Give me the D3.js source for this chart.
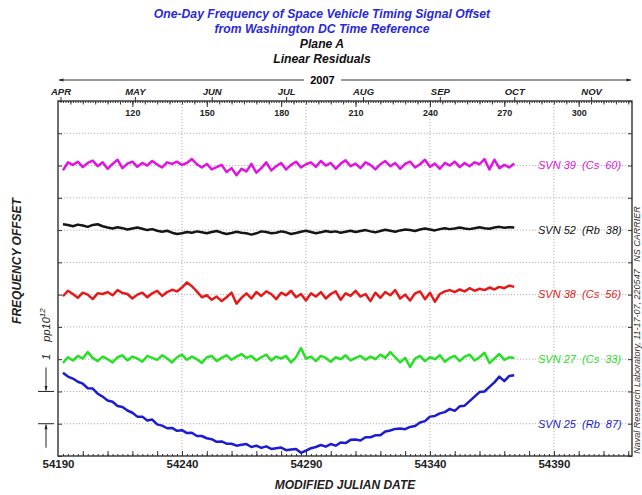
<!DOCTYPE html>
<html>
<head>
<script src="https://cdn.jsdelivr.net/npm/d3@7"></script>
<style>
  body { margin: 0; background: #fff; }
  text { font-family: "Liberation Sans", Arial, sans-serif; }
  .grid line { stroke: #b0b0b0; stroke-dasharray: 1.2,1.8; }
  .domain { display: none; }
</style>
</head>
<body>
<div id="chart"></div>
<script>
(function (d3) {
  'use strict';

  // ---- data ----
  var titleLines = ['One-Day Frequency of Space Vehicle Timing Signal Offset',
                    'from Washington DC Time Reference', 'Plane A', 'Linear Residuals'];
  var seriesNames = ['SVN 39  (Cs  60)', 'SVN 52  (Rb  38)', 'SVN 38  (Cs  56)',
                     'SVN 27  (Cs  33)', 'SVN 25  (Rb  87)'];
  var monthNames = ['APR', 'MAY', 'JUN', 'JUL', 'AUG', 'SEP', 'OCT', 'NOV'];
  var monthStartDoy = [91, 121, 152, 182, 213, 244, 274, 305];
  var doyTicks = [120, 150, 180, 210, 240, 270, 300];
  var mjdTicks = [54190, 54240, 54290, 54340, 54390];

  // one point every 2 days, MJD 54192 .. 54374
  var svn39 = [
    -0.15, 0.10, 0.02, 0.12, -0.05, 0.08, 0.15, -0.02, 0.10, -0.10,
    0.05, 0.18, -0.08, 0.06, 0.12, -0.04, 0.08, 0.00, 0.14, 0.03,
    -0.06, 0.10, 0.05, 0.12, 0.02, 0.08, 0.20, 0.04, -0.06, 0.05,
    -0.12, -0.05, 0.02, -0.20, -0.08, -0.30, -0.10, -0.18, 0.05, -0.22,
    -0.08, 0.10, -0.15, -0.02, 0.08, -0.12, 0.02, 0.12, -0.06, 0.04,
    0.10, -0.04, 0.14, 0.00, 0.08, -0.10, 0.06, 0.16, -0.02, 0.06,
    -0.08, 0.10, 0.02, -0.12, 0.04, 0.14, -0.02, 0.08, -0.10, 0.05,
    0.12, -0.06, 0.04, 0.18, -0.04, 0.06, -0.10, 0.08, 0.00, 0.12,
    -0.05, 0.08, -0.02, 0.10, 0.04, 0.20, -0.12, 0.18, -0.08, 0.02,
    -0.06, 0.06];
  var svn52 = [
    0.18, 0.16, 0.12, 0.17, 0.14, 0.10, 0.16, 0.18, 0.12, 0.08,
    0.05, 0.09, 0.06, 0.02, 0.05, 0.08, 0.04, 0.00, 0.03, -0.02,
    -0.05, -0.02, -0.08, -0.12, -0.10, -0.06, -0.08, -0.04, -0.07, -0.10,
    -0.06, -0.03, -0.08, -0.12, -0.09, -0.05, -0.08, -0.10, -0.14, -0.10,
    -0.04, -0.06, -0.10, -0.08, -0.04, -0.07, -0.12, -0.09, -0.05, -0.02,
    -0.06, -0.10, -0.07, -0.03, -0.06, -0.04, -0.08, -0.05, -0.02, -0.06,
    -0.03, 0.00, -0.04, -0.07, -0.03, 0.01, -0.02, -0.05, -0.01, 0.02,
    0.00, -0.03, 0.02, 0.05, 0.02, -0.01, 0.03, 0.06, 0.03, 0.05,
    0.08, 0.05, 0.03, 0.06, 0.09, 0.06, 0.04, 0.08, 0.10, 0.07,
    0.09, 0.08];
  var svn38 = [
    -0.05, 0.12, 0.02, -0.10, 0.06, 0.00, -0.14, 0.04, 0.02, 0.08,
    -0.02, 0.14, 0.05, 0.02, -0.12, 0.00, 0.06, -0.08, 0.04, 0.12,
    -0.04, 0.08, 0.15, 0.10, 0.22, 0.38, 0.26, 0.10, -0.08, -0.02,
    -0.16, -0.06, -0.20, -0.08, 0.06, -0.28, -0.10, 0.04, -0.12, 0.08,
    -0.04, 0.10, 0.02, -0.14, 0.06, -0.02, 0.12, -0.08, 0.02, -0.18,
    0.04, -0.06, 0.08, -0.12, 0.02, 0.10, -0.16, 0.04, -0.04, 0.12,
    -0.06, 0.02, -0.20, 0.06, -0.10, 0.08, -0.02, 0.14, -0.12, 0.00,
    -0.18, 0.04, 0.10, -0.14, 0.06, -0.22, 0.02, 0.10, 0.14, 0.08,
    0.16, 0.10, 0.20, 0.12, 0.18, 0.14, 0.22, 0.16, 0.24, 0.20,
    0.28, 0.24];
  var svn27 = [
    -0.12, 0.06, -0.04, 0.10, 0.02, 0.22, 0.04, -0.06, 0.08, 0.00,
    -0.10, 0.06, 0.12, -0.04, 0.08, 0.02, -0.08, 0.10, 0.04, -0.02,
    0.12, 0.02, -0.10, 0.06, 0.14, -0.02, 0.08, 0.00, -0.12, 0.06,
    0.10, -0.06, 0.04, 0.12, -0.02, 0.08, 0.16, 0.04, 0.10, -0.04,
    0.06, 0.14, -0.04, 0.08, 0.02, 0.10, -0.10, 0.06, 0.34, 0.02,
    0.08, -0.06, 0.10, 0.04, -0.08, 0.06, 0.00, 0.12, -0.04, 0.04,
    0.10, -0.02, 0.08, 0.00, 0.14, 0.04, 0.22, 0.06, -0.10, 0.04,
    -0.24, 0.02, 0.10, -0.06, 0.06, 0.00, 0.12, -0.08, 0.04, 0.10,
    -0.06, 0.08, 0.14, -0.04, 0.06, 0.20, -0.12, 0.02, 0.16, -0.02,
    0.06, 0.04];
  var svn25 = [
    2.58, 2.46, 2.40, 2.30, 2.24, 2.10, 2.09, 1.93, 1.84, 1.72,
    1.68, 1.55, 1.52, 1.41, 1.34, 1.22, 1.22, 1.10, 1.13, 0.98,
    0.94, 0.86, 0.87, 0.78, 0.80, 0.71, 0.72, 0.62, 0.62, 0.55,
    0.52, 0.44, 0.45, 0.38, 0.38, 0.32, 0.35, 0.37, 0.28, 0.32,
    0.25, 0.30, 0.22, 0.24, 0.26, 0.18, 0.20, 0.22, 0.10, 0.17,
    0.24, 0.28, 0.34, 0.29, 0.37, 0.32, 0.42, 0.40, 0.50, 0.51,
    0.48, 0.58, 0.58, 0.64, 0.64, 0.76, 0.79, 0.84, 0.85, 0.83,
    0.90, 0.93, 1.04, 1.08, 1.22, 1.24, 1.32, 1.36, 1.46, 1.40,
    1.54, 1.56, 1.70, 1.84, 1.98, 2.00, 2.14, 2.28, 2.46, 2.32,
    2.48, 2.50];
  var allSeries = [svn39, svn52, svn38, svn27, svn25];
  var mjd = d3.range(54192, 54375, 2);

  // ---- layout ----
  var width = 642, height = 495;
  var left = 58, right = 632, top = 101, bottom = 456;
  var lineColors = ['#e014e0', '#151515', '#e41a1a', '#26e026', '#1c1cd0'];
  var stackOffset = [9, 7, 5, 3, 0];   // vertical separation used in the original plot
  var labelLevel = [9, 7, 5, 3, 1];

  var x = d3.scaleLinear().domain([54190, 54421.5]).range([left, right]);
  var xDoy = d3.scaleLinear().domain([90, 321.5]).range([left, right]);
  var y = d3.scaleLinear().domain([0, 11]).range([bottom, top]);

  var svg = d3.select('#chart').append('svg')
    .attr('width', width).attr('height', height);

  // titles
  svg.selectAll('.title').data(titleLines).enter().append('text')
    .attr('x', 322).attr('y', function (d, i) { return 18 + i * 15; })
    .attr('text-anchor', 'middle')
    .style('font-size', '12.2px').style('font-weight', 'bold').style('font-style', 'italic')
    .style('fill', function (d, i) { return i < 2 ? '#2a2ad6' : '#111'; })
    .text(function (d) { return d; });

  // grid
  svg.append('g').attr('class', 'grid')
    .selectAll('line').data(d3.range(1, 11)).enter().append('line')
    .attr('x1', left).attr('x2', right)
    .attr('y1', function (d) { return y(d); }).attr('y2', function (d) { return y(d); });
  svg.append('g').attr('class', 'grid')
    .selectAll('line').data(mjdTicks.slice(1)).enter().append('line')
    .attr('y1', top).attr('y2', bottom)
    .attr('x1', function (d) { return x(d); }).attr('x2', function (d) { return x(d); });

  // series
  var line = d3.line()
    .x(function (d, i) { return x(mjd[i]); });
  allSeries.forEach(function (vals, k) {
    line.y(function (d) { return y(d + stackOffset[k]); });
    svg.append('path').datum(vals)
      .attr('d', line)
      .attr('fill', 'none')
      .attr('stroke', lineColors[k])
      .attr('stroke-width', 2.5)
      .attr('stroke-linejoin', 'round');
  });

  // series labels
  svg.selectAll('.svn').data(seriesNames).enter().append('text')
    .attr('x', 538).attr('y', function (d, i) { return y(labelLevel[i]); })
    .attr('dy', '0.35em')
    .attr('xml:space', 'preserve').style('white-space', 'pre')
    .style('font-size', '11px').style('font-style', 'italic')
    .style('fill', function (d, i) { return lineColors[i]; })
    .text(function (d) { return d; });

  // frame
  svg.append('rect').attr('x', left).attr('y', top)
    .attr('width', right - left).attr('height', bottom - top)
    .attr('fill', 'none').attr('stroke', '#222').attr('stroke-width', 1.3);

  // left / right inner ticks
  svg.append('g').attr('transform', 'translate(' + left + ',0)')
    .call(d3.axisRight(y).ticks(11).tickSize(4).tickFormat(''));
  svg.append('g').attr('transform', 'translate(' + right + ',0)')
    .call(d3.axisLeft(y).ticks(11).tickSize(4).tickFormat(''));

  // top ruler: day of year
  svg.append('g').attr('transform', 'translate(0,' + top + ')')
    .call(d3.axisBottom(xDoy).tickValues(d3.range(91, 322, 1)).tickSize(2).tickFormat(''));
  svg.append('g').attr('transform', 'translate(0,' + top + ')')
    .call(d3.axisBottom(xDoy).tickValues(d3.range(95, 322, 5)).tickSize(3.5).tickFormat(''));
  var doyAxis = svg.append('g').attr('transform', 'translate(0,' + top + ')')
    .call(d3.axisBottom(xDoy).tickValues(doyTicks).tickSize(6).tickPadding(3));
  doyAxis.selectAll('text').style('font-size', '9px').style('font-weight', 'bold').attr('fill', '#222');
  var monthAxis = svg.append('g').attr('transform', 'translate(0,' + top + ')')
    .call(d3.axisTop(xDoy).tickValues(monthStartDoy).tickSize(4).tickPadding(2)
      .tickFormat(function (d, i) { return monthNames[i]; }));
  monthAxis.selectAll('text').style('font-size', '9.5px').style('font-weight', 'bold')
    .style('font-style', 'italic').attr('fill', '#222');

  // year arrow
  var defs = svg.append('defs');
  defs.append('marker').attr('id', 'arr').attr('viewBox', '0 0 10 10')
    .attr('refX', 9).attr('refY', 5).attr('markerWidth', 7).attr('markerHeight', 5)
    .attr('orient', 'auto').append('path').attr('d', 'M0,2L10,5L0,8Z').attr('fill', '#222');
  var yr = svg.append('g');
  yr.append('line').attr('x1', 304).attr('x2', left + 1).attr('y1', 80).attr('y2', 80)
    .attr('stroke', '#333').attr('marker-end', 'url(#arr)');
  yr.append('line').attr('x1', 341).attr('x2', right - 1).attr('y1', 80).attr('y2', 80)
    .attr('stroke', '#333').attr('marker-end', 'url(#arr)');
  yr.append('text').attr('x', 322.5).attr('y', 84).attr('text-anchor', 'middle')
    .style('font-size', '11px').style('font-weight', 'bold').text('2007');

  // bottom axis
  svg.append('g').attr('transform', 'translate(0,' + bottom + ')')
    .call(d3.axisTop(x).tickValues(d3.range(54192, 54421, 2)).tickSize(2).tickFormat(''));
  svg.append('g').attr('transform', 'translate(0,' + bottom + ')')
    .call(d3.axisTop(x).tickValues(d3.range(54200, 54421, 10)).tickSize(5).tickFormat(''));
  var mjdAxis = svg.append('g').attr('transform', 'translate(0,' + bottom + ')')
    .call(d3.axisBottom(x).tickValues(mjdTicks).tickSize(0).tickPadding(4)
      .tickFormat(d3.format('d')));
  mjdAxis.selectAll('text').style('font-size', '11.5px').style('font-weight', 'bold').attr('fill', '#222');
  svg.selectAll('.tick line').attr('stroke', '#333');

  svg.append('text').attr('x', 345).attr('y', 489).attr('text-anchor', 'middle')
    .style('font-size', '12px').style('font-weight', 'bold').style('font-style', 'italic')
    .style('fill', '#222').text('MODIFIED JULIAN DATE');

  // y label
  svg.append('text').attr('transform', 'translate(21,261) rotate(-90)')
    .attr('text-anchor', 'middle')
    .style('font-size', '12px').style('font-weight', 'bold').style('font-style', 'italic')
    .style('fill', '#222').text('FREQUENCY OFFSET');

  // scale bar: 1 pp10^12
  var sb = svg.append('g').attr('stroke', '#222');
  sb.append('line').attr('x1', 46).attr('x2', 46).attr('y1', y(2) - 24).attr('y2', y(2) - 1)
    .attr('marker-end', 'url(#arr)');
  sb.append('line').attr('x1', 38).attr('x2', 54).attr('y1', y(2)).attr('y2', y(2));
  sb.append('line').attr('x1', 46).attr('x2', 46).attr('y1', y(1) + 24).attr('y2', y(1) + 1)
    .attr('marker-end', 'url(#arr)');
  sb.append('line').attr('x1', 38).attr('x2', 54).attr('y1', y(1)).attr('y2', y(1));
  var unit = svg.append('text').attr('transform', 'translate(50,360) rotate(-90)')
    .attr('xml:space', 'preserve').style('white-space', 'pre')
    .style('font-size', '11px').style('font-style', 'italic').style('fill', '#222');
  unit.append('tspan').text('1    pp10');
  unit.append('tspan').attr('dy', -5).style('font-size', '8px').text('12');

  // right side stamp
  svg.append('text').attr('transform', 'translate(640,330) rotate(-90)')
    .attr('text-anchor', 'middle').attr('xml:space', 'preserve').style('white-space', 'pre')
    .style('font-size', '9px').style('font-style', 'italic').style('fill', '#333')
    .text('Naval Research Laboratory, 11-17-07, 220547   NS CARRIER');

})(window.d3);
</script>
</body>
</html>
